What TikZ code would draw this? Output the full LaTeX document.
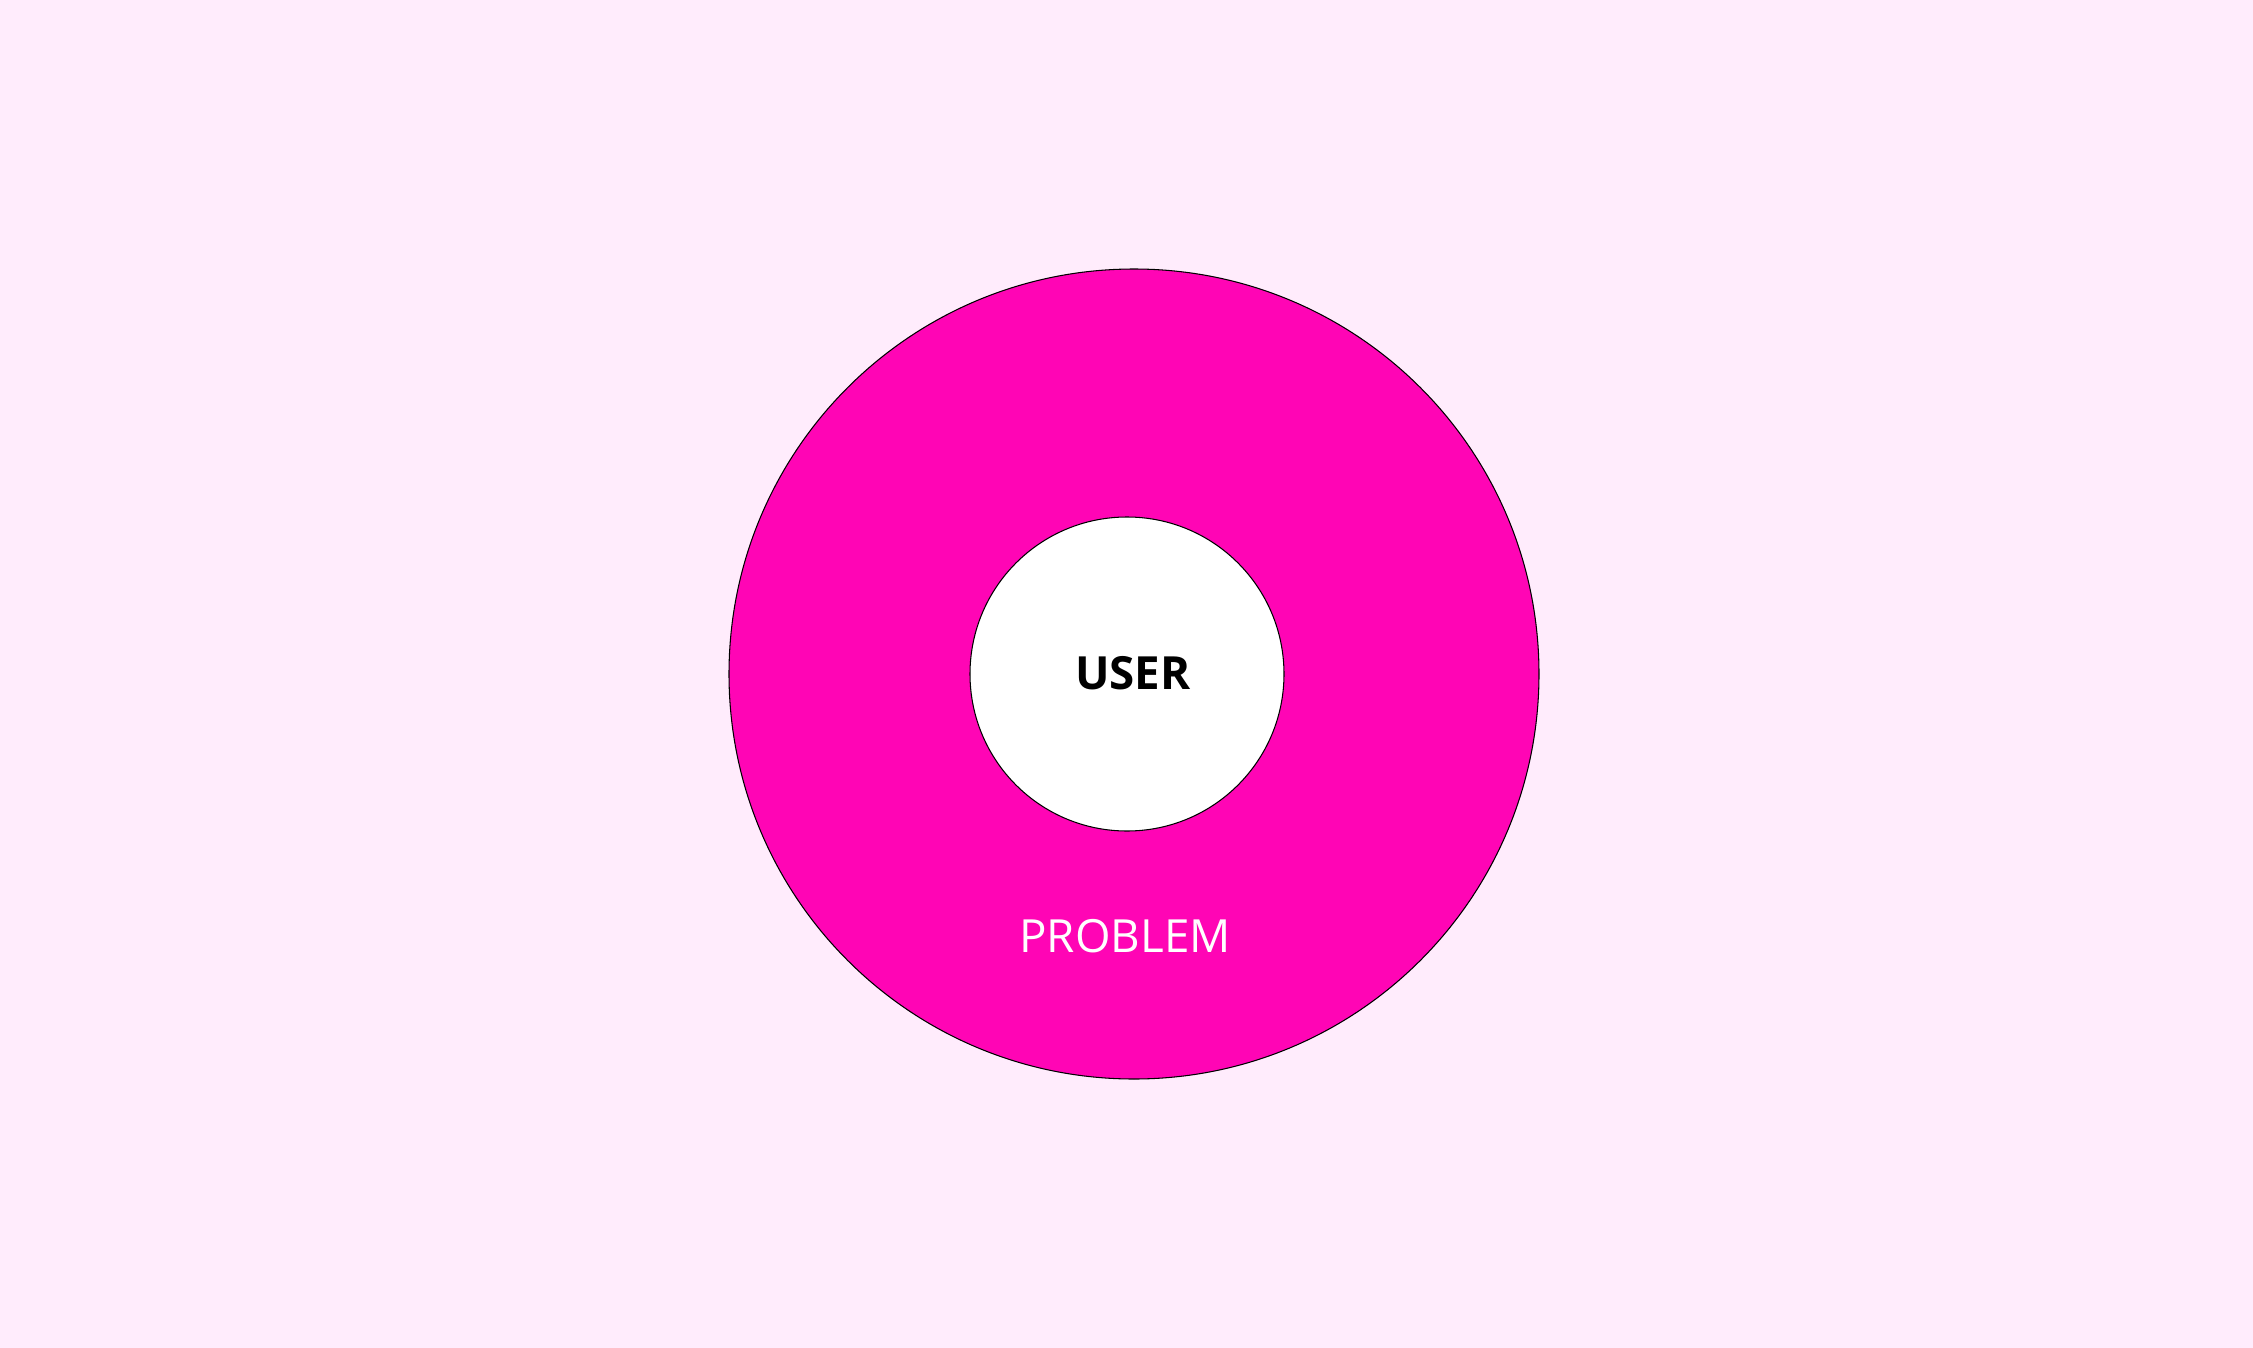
\documentclass[tikz,border=0pt]{standalone}
\usepackage{fontspec}
\setmainfont{Open Sans}
\usepackage{xcolor}
\usepackage{tikz}
\usetikzlibrary{positioning, calc}
\definecolor{bgpink}{RGB}{255, 236, 252}
\definecolor{hotpink}{RGB}{255, 5, 181}
\tikzset{
    ringnode/.style={
        circle, draw=black, line width=0.3pt, fill=hotpink, minimum size=8.1cm, inner sep=0pt
    },
    corenode/.style={
        circle, draw=black, line width=0.3pt, fill=white, minimum size=3.14cm, inner sep=0pt
    },
    labeltext/.style={
        font=\fontsize{13}{15}\selectfont, inner sep=0pt
    }
}
\begin{document}
\begin{tikzpicture}

        % ======================================
        % NỀN
        % ======================================
        \fill[bgpink] (0,0) rectangle (22.53,-13.48);
        \useasboundingbox (0,0) rectangle (22.53,-13.48);

        % ======================================
        % HAI VÒNG TRÒN
        % ======================================
        \node[ringnode] (problem) at (11.34,-6.74) {};
        \node[corenode] (user) at (11.27,-6.74) {};

        % Nhãn
        \node[labeltext, font=\fontsize{13}{15}\selectfont\bfseries, text=black] (userlbl) at (11.33,-6.73) {USER};
        \node[labeltext, text=white] (problemlbl) at (11.25,-9.36) {PROBLEM};

    \end{tikzpicture}
\end{document}
